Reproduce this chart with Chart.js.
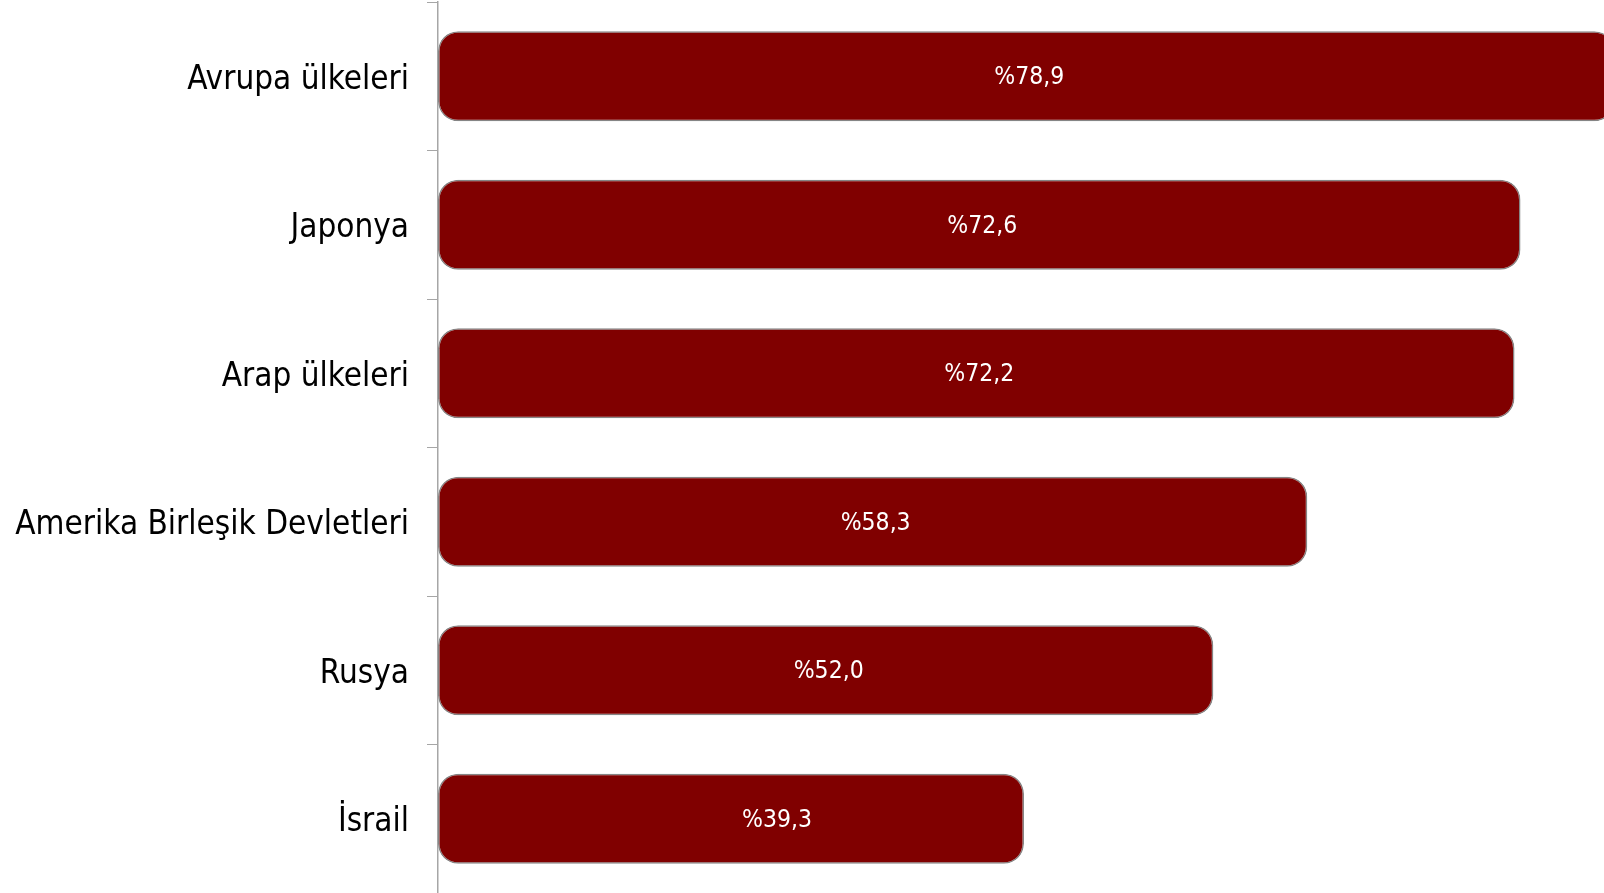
<!DOCTYPE html>
<html>
  <head>
    <meta charset="utf-8">
    <title>Ülkelere bakış</title>
    <style>
      body { margin: 0; background: #fff; }
    </style>
  </head>
  <body>

    <canvas id="barChart" width="1604" height="893"></canvas>

    <script src="https://cdn.jsdelivr.net/npm/chart.js@4.4.1/dist/chart.umd.min.js"></script>
    <script>

      // Categories and values (percent)
      const categories = ["Avrupa ülkeleri", "Japonya", "Arap ülkeleri", "Amerika Birleşik Devletleri", "Rusya", "İsrail"];
      const values = [78.9, 72.6, 72.2, 58.3, 52.0, 39.3];
      const valueLabels = ["%78,9", "%72,6", "%72,2", "%58,3", "%52,0", "%39,3"];

      const font = "'DejaVu Sans Condensed', 'DejaVu Sans', sans-serif";

      // Write the value in the middle of each bar
      // (the last label sits a bit right of centre in the original)
      const barLabels = {
        id: "barLabels",
        afterDatasetsDraw(chart, args, opts) {
          const ctx = chart.ctx;
          const meta = chart.getDatasetMeta(0);
          ctx.save();
          ctx.fillStyle = "#ffffff";
          ctx.font = "24.5px " + font;
          ctx.textAlign = "center";
          ctx.textBaseline = "alphabetic";
          meta.data.forEach((bar, i) => {
            const shift = (opts.shift && opts.shift[i]) || 0;
            ctx.fillText(valueLabels[i], (bar.x + bar.base) / 2 + 3 + shift, bar.y + 8);
          });
          ctx.restore();
        }
      };

      const ctx = document.getElementById("barChart").getContext("2d");

      const chart = new Chart(ctx, {
        type: "bar",
        data: {
          labels: categories,
          datasets: [{
            data: values,
            backgroundColor: "#800000",
            borderColor: "#858585",
            borderWidth: 1.5,
            borderRadius: 20,
            borderSkipped: false,
            categoryPercentage: 1,
            barPercentage: 0.607
          }]
        },
        options: {
          indexAxis: "y",
          responsive: false,
          animation: false,
          layout: { padding: { top: 2, right: 0, bottom: 0, left: 0 } },
          plugins: {
            legend: { display: false },
            tooltip: { enabled: false },
            barLabels: { shift: { 5: 43 } }
          },
          scales: {
            x: {
              display: false,
              min: 0,
              max: 78.2
            },
            y: {
              grid: {
                display: true,
                offset: true,
                drawOnChartArea: false,
                drawTicks: true,
                tickLength: 11,
                color: "#a6a6a6",
                lineWidth: 1
              },
              border: { display: true, color: "#a6a6a6", width: 1.5 },
              ticks: {
                color: "#000000",
                padding: 18,
                labelOffset: 4,
                font: { family: font, size: 33 }
              },
              afterFit: (scale) => {
                scale.width = 438;
                scale.paddingTop = 0;
                scale.paddingBottom = 0;
              }
            }
          }
        },
        plugins: [barLabels]
      });

    </script>
  </body>
</html>
